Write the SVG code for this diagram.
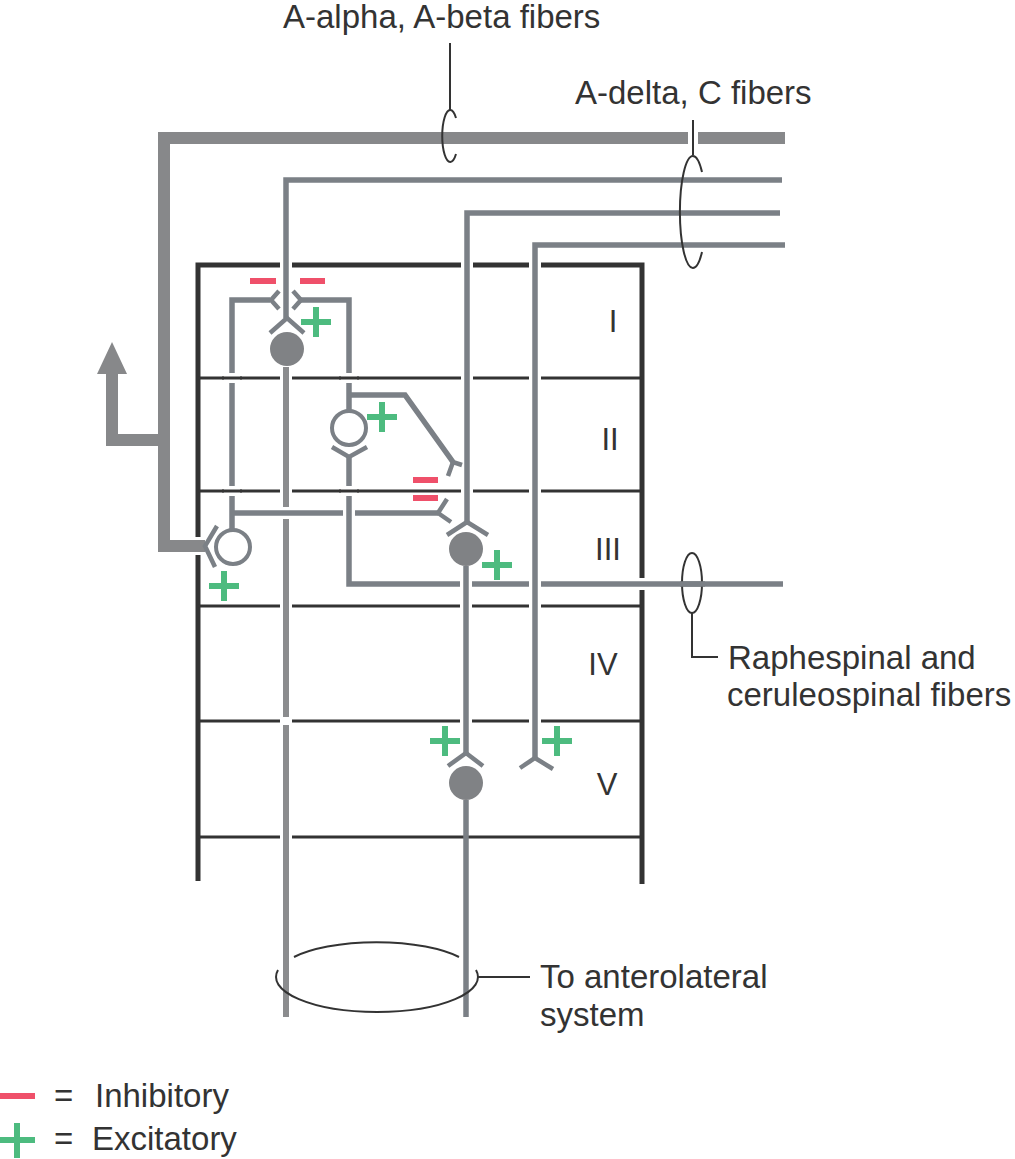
<svg xmlns="http://www.w3.org/2000/svg" xmlns:xlink="http://www.w3.org/1999/xlink" width="1015" height="1159" viewBox="0 0 1015 1159">
<style>
.box{stroke:#333;stroke-width:5;fill:none}
.div{stroke:#333;stroke-width:3;fill:none}
.divh{stroke:#fff;stroke-width:10;fill:none}
.halo{stroke:#fff;stroke-width:12;fill:none}
.thickh{stroke:#fff;stroke-width:18;fill:none}
.thick{stroke:#87888a;stroke-width:12;fill:none}
.fib{stroke:#7b8086;stroke-width:5.5;fill:none}
.ax{stroke:#8b8c8e;stroke-width:6;fill:none}
.arm{stroke:#7b8086;stroke-width:4.5;fill:none}
.cell{fill:#808285}
.open{fill:#fff;stroke:#7b8086;stroke-width:4}
.lead{stroke:#333;stroke-width:2;fill:none}
.plus{stroke:#4dbb7f;stroke-width:6;fill:none}
.minus{stroke:#ef506a;stroke-width:6;fill:none}
text{font-family:"Liberation Sans",Arial,sans-serif;font-size:33px;fill:#333}
.lam{text-anchor:middle;font-size:31px}
</style>
<defs>
<path id="pl" d="M-15 0H15M0-15V15"/>
<path id="pThick" d="M785 138H164V546H205"/>
<path id="pAx1" d="M286 367V1017"/>
<path id="pLeft" d="M270 300H232V530M232 513H438"/>
<path id="pII" d="M349 411V300H301M349 395H405L453 462"/>
<path id="pRaphe" d="M349 457V584H783"/>
<path id="pF1" d="M782 180H286V318"/>
<path id="pF2" d="M780 213H467V522"/>
<path id="pF3" d="M785 245H535V758"/>
<path id="pAx2" d="M466 566V753"/>
<path id="pAx3" d="M466 800V1017"/>
</defs>

<g id="lamina-box">
<path class="box" d="M198 881V265H642V884"/>
<path class="div" d="M198 378H642M198 491H642M198 606H642M198 721H642M198 837H642"/>
</g>

<g id="connectors">
<use href="#pThick" class="thickh"/>
<use href="#pThick" class="thick"/>
<path class="thick" d="M164 440H112V372" stroke-width="11"/>
<polygon points="112,342 97,374 127,374" fill="#87888a"/>

<use href="#pAx1" class="halo"/>
<use href="#pAx1" class="ax"/>

<use href="#pLeft" class="halo"/>
<use href="#pLeft" class="fib"/>

<use href="#pII" class="halo"/>
<use href="#pII" class="fib"/>
<use href="#pRaphe" class="halo"/>
<use href="#pRaphe" class="fib"/>

<use href="#pF1" class="halo"/>
<use href="#pF1" class="fib"/>
<use href="#pF2" class="halo"/>
<use href="#pF2" class="fib"/>
<use href="#pF3" class="halo"/>
<use href="#pF3" class="fib"/>
<use href="#pAx2" class="halo"/>
<use href="#pAx2" class="fib"/>
<use href="#pAx3" class="fib"/>

<path class="divh" d="M224 378H240M341 378H357M224 491H240M341 491H357"/>
<path class="div" d="M222 378H242M339 378H359M222 491H242M339 491H359"/>
<rect x="282" y="717" width="9" height="8" fill="#fff"/>

<path class="arm" d="M279 291L271 300L279 309"/>
<path class="arm" d="M293 291L301 300L293 309"/>
<path class="arm" d="M462 465L453 462L448 476"/>
<path class="arm" d="M447 499L438 513L451 522"/>
<path class="arm" d="M217 526L205 546L215 567"/>
<path class="arm" d="M520 768L535 758L553 769"/>
</g>

<g id="neuron-I">
<path class="arm" d="M270 333L287 318L304 333"/>
<circle class="cell" cx="287" cy="349" r="17"/>
</g>
<g id="interneuron-II">
<circle class="open" cx="349" cy="428" r="17"/>
<path class="arm" d="M332 447L349 457L367 447"/>
</g>
<g id="interneuron-III">
<circle class="open" cx="233" cy="547" r="17"/>
</g>
<g id="neuron-III">
<path class="arm" d="M447 535L467 522L488 535"/>
<circle class="cell" cx="466" cy="549" r="17"/>
</g>
<g id="neuron-V">
<path class="arm" d="M448 766L466 753L483 766"/>
<circle class="cell" cx="466" cy="783" r="17"/>
</g>

<g id="signs">
<use href="#pl" class="plus" x="316" y="322"/>
<use href="#pl" class="plus" x="382" y="417"/>
<use href="#pl" class="plus" x="497" y="565"/>
<use href="#pl" class="plus" x="224" y="586"/>
<use href="#pl" class="plus" x="445" y="741"/>
<use href="#pl" class="plus" x="557" y="741"/>
<path class="minus" d="M250 281H276M300 281H325M413 480H438M413 498H438"/>
</g>

<g id="bundles">
<path class="lead" d="M450 43V110"/>
<path class="lead" d="M456 118A8 26 0 1 0 456 154"/>
<rect x="688" y="130" width="10" height="16" fill="#fff"/>
<path class="lead" d="M693 120V155"/>
<path class="lead" d="M702 172A13 56 0 1 0 702 252"/>
<ellipse class="lead" cx="692" cy="583" rx="10" ry="30"/>
<path class="fib" d="M680 584H705"/>
<path class="lead" d="M692 613V657H718"/>
<path class="lead" d="M278 970A101 35 0 1 0 476 970"/>
<path class="lead" d="M294 957A101 35 0 0 1 459 957"/>
<path class="lead" d="M478 977H530"/>
</g>

<g id="labels">
<text x="283" y="28">A-alpha, A-beta fibers</text>
<text x="575" y="104">A-delta, C fibers</text>
<text x="728" y="669">Raphespinal and</text>
<text x="727" y="706">ceruleospinal fibers</text>
<text x="540" y="988">To anterolateral</text>
<text x="540" y="1026">system</text>
<text class="lam" x="613" y="332">I</text>
<text class="lam" x="610" y="450">II</text>
<text class="lam" x="608" y="560">III</text>
<text class="lam" x="603" y="675">IV</text>
<text class="lam" x="607" y="795">V</text>
</g>

<g id="legend">
<path class="minus" d="M0 1096H35"/>
<text x="54" y="1107">=</text>
<text x="95" y="1107">Inhibitory</text>
<path class="plus" d="M0 1140H35M17 1123V1158"/>
<text x="54" y="1150">=</text>
<text x="92" y="1150">Excitatory</text>
</g>
</svg>
